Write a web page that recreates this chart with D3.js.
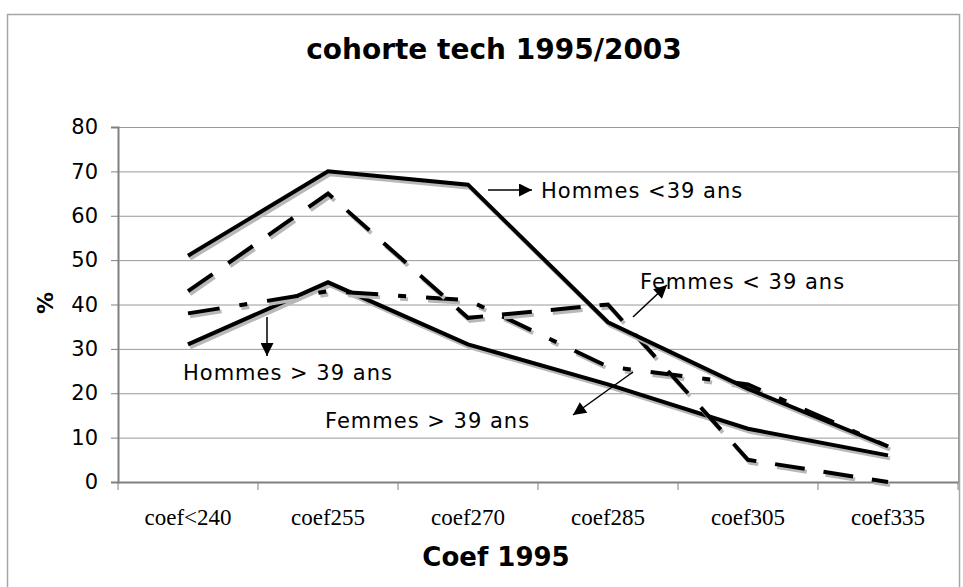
<!DOCTYPE html>
<html>
<head>
<meta charset="utf-8">
<script src="https://cdn.jsdelivr.net/npm/d3@7"></script>
<style>
  body { margin: 0; background: #fff; }
  svg { display: block; }
</style>
</head>
<body>
<script>
// size of the page
var width = 963;
var height = 587;

// data
var categories = ["coef<240", "coef255", "coef270", "coef285", "coef305", "coef335"];
var hommesMoins39 = [51, 70, 67, 36, 21, 8];
var femmesMoins39 = [43, 65, 37, 40, 5, 0];
var hommesPlus39 = [38, 43, 41, 26, 22, 8];
var femmesPlus39 = [31, 45, 31, 22, 12, 6];
var yTicks = [0, 10, 20, 30, 40, 50, 60, 70, 80];

var series = [
    { name: "Femmes > 39 ans", values: femmesPlus39, dash: null },
    { name: "Hommes > 39 ans", values: hommesPlus39, dash: "32,20,8,20" },
    { name: "Femmes < 39 ans", values: femmesMoins39, dash: "30,19" },
    { name: "Hommes <39 ans", values: hommesMoins39, dash: null }
];

var svg = d3.select("body")
    .append("svg")
    .attr("width", width)
    .attr("height", height);

// outer frame of the chart (cropped on right and bottom)
svg.append("rect")
    .attr("x", 7.5)
    .attr("y", 14.5)
    .attr("width", 952)
    .attr("height", 600)
    .style("fill", "#fff")
    .style("stroke", "#a6a6a6")
    .style("stroke-width", 1.5);

// scales
var x = d3.scaleBand()
    .domain(categories)
    .range([118, 958]);

var y = d3.scaleLinear()
    .domain([0, 80])
    .range([482, 127]);

function cx(d, i) { return x(categories[i]) + x.bandwidth() / 2; }

// gridlines
svg.append("g")
    .selectAll("line")
    .data(yTicks.slice(1))
    .enter()
    .append("line")
    .attr("x1", 118)
    .attr("x2", 958)
    .attr("y1", function (d) { return y(d) + 0.5; })
    .attr("y2", function (d) { return y(d) + 0.5; })
    .style("stroke", "#999")
    .style("stroke-width", 1);

// right edge of plot
svg.append("line")
    .attr("x1", 958.5).attr("x2", 958.5)
    .attr("y1", y(80)).attr("y2", y(0))
    .style("stroke", "#999");

// y axis
var yAxis = d3.axisLeft(y)
    .tickValues(yTicks)
    .tickSize(7)
    .tickPadding(13);

var gy = svg.append("g")
    .attr("transform", "translate(118,0)")
    .call(yAxis);
gy.select(".domain").style("stroke", "#808080").style("stroke-width", 2);
gy.selectAll(".tick line").style("stroke", "#808080");
gy.selectAll("text")
    .style("font-family", "DejaVu Sans, Verdana, sans-serif")
    .style("font-size", "21px")
    .style("fill", "#000");

// x axis
var xAxis = d3.axisBottom(x)
    .tickSize(0)
    .tickPadding(27);

var gx = svg.append("g")
    .attr("transform", "translate(0,482)")
    .call(xAxis);
gx.select(".domain").style("stroke", "#808080").style("stroke-width", 2);
gx.selectAll("text")
    .style("font-family", "Liberation Serif, Times New Roman, serif")
    .style("font-size", "23px")
    .style("fill", "#000");

// x axis tick marks between categories
svg.append("g")
    .selectAll("line")
    .data(categories.concat(["end"]))
    .enter()
    .append("line")
    .attr("x1", function (d, i) { return 118 + i * x.bandwidth(); })
    .attr("x2", function (d, i) { return 118 + i * x.bandwidth(); })
    .attr("y1", 482)
    .attr("y2", 490)
    .style("stroke", "#808080");

// lines
var line = d3.line()
    .x(cx)
    .y(function (d) { return y(d); });

series.forEach(function (s) {
    // shadow
    svg.append("path")
        .datum(s.values)
        .attr("d", line)
        .attr("transform", "translate(2,3)")
        .style("fill", "none")
        .style("stroke", "#b8b8b8")
        .style("stroke-width", 4)
        .style("stroke-dasharray", s.dash);
    svg.append("path")
        .datum(s.values)
        .attr("d", line)
        .style("fill", "none")
        .style("stroke", "#000")
        .style("stroke-width", 4)
        .style("stroke-dasharray", s.dash);
});

// arrow head marker
svg.append("defs")
    .append("marker")
    .attr("id", "arrow")
    .attr("viewBox", "0 0 10 10")
    .attr("refX", 10)
    .attr("refY", 5)
    .attr("markerWidth", 14)
    .attr("markerHeight", 13)
    .attr("markerUnits", "userSpaceOnUse")
    .attr("orient", "auto")
    .append("path")
    .attr("d", "M0,0 L10,5 L0,10 z")
    .style("fill", "#000");

// labels with arrows
var labels = [
    { text: "Hommes <39 ans", tx: 541, ty: 198, a: [488, 190, 532, 190] },
    { text: "Femmes < 39 ans", tx: 640, ty: 289, a: [633, 317, 667, 285] },
    { text: "Hommes > 39 ans", tx: 183, ty: 380, a: [267, 317, 267, 356] },
    { text: "Femmes > 39 ans", tx: 325, ty: 428, a: [633, 372, 573, 415] }
];

labels.forEach(function (l) {
    svg.append("line")
        .attr("x1", l.a[0]).attr("y1", l.a[1])
        .attr("x2", l.a[2]).attr("y2", l.a[3])
        .style("stroke", "#000")
        .style("stroke-width", 1.5)
        .attr("marker-end", "url(#arrow)");
    svg.append("text")
        .attr("x", l.tx)
        .attr("y", l.ty)
        .style("font-family", "DejaVu Sans, Verdana, sans-serif")
        .style("font-size", "21px")
        .style("letter-spacing", "1px")
        .text(l.text);
});

// titles
svg.append("text")
    .attr("x", 494)
    .attr("y", 59)
    .attr("text-anchor", "middle")
    .style("font-family", "DejaVu Sans, Verdana, sans-serif")
    .style("font-weight", "bold")
    .style("font-size", "28px")
    .text("cohorte tech 1995/2003");

svg.append("text")
    .attr("x", 496)
    .attr("y", 566)
    .attr("text-anchor", "middle")
    .style("font-family", "DejaVu Sans, Verdana, sans-serif")
    .style("font-weight", "bold")
    .style("font-size", "26px")
    .text("Coef 1995");

svg.append("text")
    .attr("transform", "translate(53,303) rotate(-90)")
    .attr("text-anchor", "middle")
    .style("font-family", "DejaVu Sans, Verdana, sans-serif")
    .style("font-weight", "bold")
    .style("font-size", "22px")
    .text("%");
</script>
</body>
</html>
